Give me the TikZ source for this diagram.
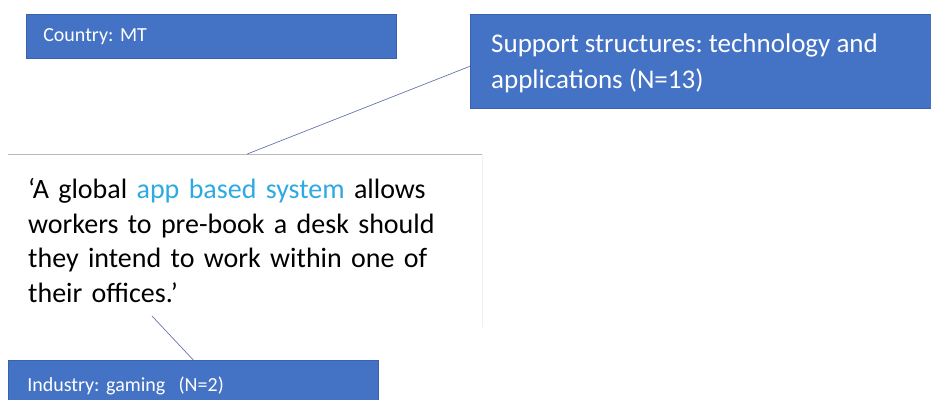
\documentclass[tikz,border=0pt]{standalone}
\usepackage{fontspec}
\setmainfont{Carlito}
\frenchspacing
\definecolor{boxblue}{RGB}{68,114,196}
\definecolor{boxedge}{RGB}{58,98,172}
\definecolor{linkline}{RGB}{100,118,170}
\definecolor{appblue}{RGB}{46,170,226}
% quotation font with slightly tighter word spaces
\newcommand{\quotefont}{\fontsize{28}{34.5}\selectfont
  \spaceskip=0.2em plus 0.1em minus 0.05em\relax}
\begin{document}
\begin{tikzpicture}[x=1pt,y=-1pt,
  label box/.style={fill=boxblue, draw=boxedge, line width=0.5pt, text=white,
    anchor=north west, inner ysep=0pt, align=left},
  link/.style={draw=linkline, line width=0.7pt}]
\useasboundingbox (0,0) rectangle (931,399);
\clip (0,0) rectangle (931,399);

% category boxes
\node[label box, minimum width=370pt, minimum height=44pt, inner xsep=17pt,
      text width=336pt, font=\fontsize{20}{24}\selectfont]
  (country) at (26,14) {Country: MT};
\node[label box, minimum width=465pt, minimum height=94pt] (support) at (470,14) {};
% two-line caption; the base anchor sits on the last line
\node[anchor=base west, inner sep=0pt, text=white, align=left,
      font=\fontsize{27}{36}\selectfont] (supporttext) at (491,88)
  {Support structures: technology and\\applications (N=13)};
\node[label box, minimum width=370pt, minimum height=52pt, inner xsep=19pt,
      text width=332pt, font=\fontsize{20}{24}\selectfont]
  (industry) at (8,360) {Industry: gaming\ \ (N=2)};

% quotation
\node[fill=white, anchor=north west, minimum width=474pt, minimum height=173pt,
      inner xsep=20pt, inner ysep=0pt, text width=434pt, align=left,
      font=\quotefont]
  (quote) at (8,154)
  {‘A global \textcolor{appblue}{app based system} allows\\
   workers to pre-book a desk should\\
   they intend to work within one of\\
   their offices.’};
\draw[draw=gray!55, line width=0.6pt] (quote.north west) -- (quote.north east);
\draw[draw=gray!12, line width=0.5pt] (quote.north east) -- (quote.south east);

% connectors
\coordinate (qfoot) at (152,316);
\draw[link] ([xshift=2pt]quote.north) -- ([yshift=-5pt]support.west);
\draw[link] (qfoot) -- (industry.north);
\end{tikzpicture}
\end{document}
